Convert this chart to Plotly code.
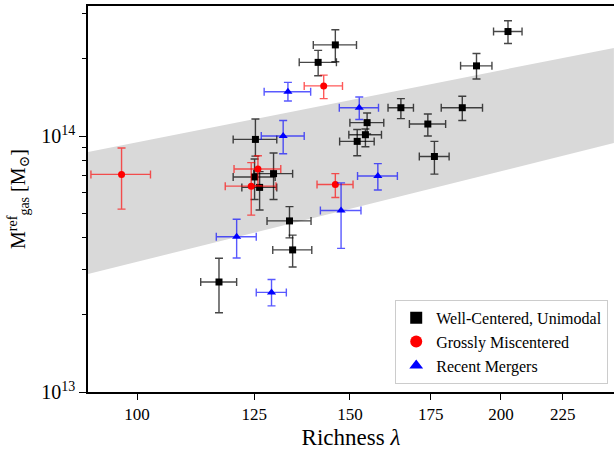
import plotly.graph_objects as go
import numpy as np

# ---- data ----
# Well-Centered, Unimodal
wc_lam = [202.7, 145.9, 141.2, 190.9, 165.3, 185.8, 174.0, 155.0, 154.5, 152.1,
          176.2, 125.3, 125.1, 129.7, 126.3, 133.7, 134.5, 116.9]
wc_lam_err = [5.5, 6.0, 5.0, 5.7, 4.0, 7.3, 6.0, 5.0, 4.8, 5.0,
              5.0, 5.2, 5.0, 4.8, 4.2, 5.6, 5.0, 4.0]
wc_m = [2.56e14, 2.27e14, 1.94e14, 1.88e14, 1.29e14, 1.29e14, 1.114e14, 1.128e14, 1.012e14, 9.53e13,
        8.32e13, 9.70e13, 6.92e13, 7.13e13, 6.30e13, 4.66e13, 3.59e13, 2.69e13]
wc_m_hi = [2.82e14, 2.60e14, 2.16e14, 2.10e14, 1.40e14, 1.43e14, 1.22e14, 1.23e14, 1.065e14, 1.06e14,
           9.53e13, 1.165e14, 8.13e13, 8.59e13, 7.26e13, 5.30e13, 4.10e13, 3.33e13]
wc_m_lo = [2.30e14, 1.95e14, 1.72e14, 1.67e14, 1.17e14, 1.15e14, 1.0e14, 1.02e14, 9.08e13, 8.38e13,
           7.10e13, 8.35e13, 5.65e13, 5.65e13, 5.14e13, 4.00e13, 3.08e13, 2.04e13]

# Grossly Miscentered
gm_lam = [97.1, 142.7, 125.9, 124.3, 145.9]
gm_lam_err = [5.5, 5.2, 5.6, 6.0, 5.0]
gm_m = [7.08e13, 1.57e14, 7.43e13, 6.37e13, 6.47e13]
gm_m_hi = [8.98e13, 1.73e14, 8.38e13, 7.87e13, 7.13e13]
gm_m_lo = [5.18e13, 1.40e14, 6.40e13, 4.91e13, 5.75e13]

# Recent Mergers
rm_lam = [133.3, 152.7, 132.1, 158.2, 147.5, 120.9, 129.2]
rm_lam_err = [5.9, 5.7, 5.4, 6.0, 5.7, 4.6, 3.7]
rm_m = [1.49e14, 1.29e14, 1.00e14, 6.98e13, 5.12e13, 4.04e13, 2.45e13]
rm_m_hi = [1.62e14, 1.42e14, 1.15e14, 7.80e13, 6.56e13, 4.73e13, 2.75e13]
rm_m_lo = [1.37e14, 1.16e14, 8.53e13, 6.15e13, 3.64e13, 3.34e13, 2.17e13]

# scatter band (power-law), at the x-range edges
band_lam = [91.1, 248.0]
band_upper = [8.66e13, 2.21e14]
band_lower = [2.89e13, 9.39e13]

x_ticks = [100, 125, 150, 175, 200, 225]
y_major = [1e13, 1e14]
y_major_text = ["10<sup>13</sup>", "10<sup>14</sup>"]
y_minor = [2e13, 3e13, 4e13, 5e13, 6e13, 7e13, 8e13, 9e13, 2e14, 3e14]

FONT = "Liberation Serif, DejaVu Serif, serif"

fig = go.Figure()

# band
fig.add_trace(go.Scatter(
    x=band_lam + band_lam[::-1],
    y=band_upper + band_lower[::-1],
    fill="toself", fillcolor="rgb(217,217,217)",
    line=dict(width=0), mode="lines", hoverinfo="skip", showlegend=False))


def add_group(lam, lam_err, m, hi, lo, name, color, ecolor, symbol, size):
    m = np.array(m); hi = np.array(hi); lo = np.array(lo)
    fig.add_trace(go.Scatter(
        x=lam, y=m, mode="markers", name=name,
        marker=dict(color=color, symbol=symbol, size=size, line=dict(width=0)),
        error_x=dict(type="data", array=lam_err, color=ecolor, thickness=1.4, width=4),
        error_y=dict(type="data", symmetric=False, array=list(hi - m), arrayminus=list(m - lo),
                     color=ecolor, thickness=1.4, width=4),
    ))


add_group(wc_lam, wc_lam_err, wc_m, wc_m_hi, wc_m_lo, "Well-Centered, Unimodal",
          "black", "rgba(0,0,0,0.72)", "square", 7)
add_group(gm_lam, gm_lam_err, gm_m, gm_m_hi, gm_m_lo, "Grossly Miscentered",
          "red", "rgba(255,0,0,0.65)", "circle", 7)
add_group(rm_lam, rm_lam_err, rm_m, rm_m_hi, rm_m_lo, "Recent Mergers",
          "blue", "rgba(0,0,255,0.65)", "triangle-up", 8)

fig.update_layout(
    width=614, height=450,
    margin=dict(l=88, r=0, t=6, b=58),
    paper_bgcolor="white", plot_bgcolor="white",
    font=dict(family=FONT, size=17, color="black"),
    showlegend=True,
    legend=dict(
        x=0.989, y=0.021, xanchor="right", yanchor="bottom",
        bgcolor="rgba(255,255,255,0.85)", bordercolor="#cccccc", borderwidth=1,
        font=dict(family=FONT, size=16, color="black"),
        itemsizing="constant", tracegroupgap=0,
    ),
    xaxis=dict(
        type="log", range=[1.95947, 2.39454], automargin=False,
        tickvals=x_ticks, ticktext=[str(v) for v in x_ticks],
        ticks="outside", ticklen=6, tickwidth=1.2, tickcolor="black",
        showline=True, linecolor="black", linewidth=1.5, mirror=True,
        showgrid=False, zeroline=False,
        title=dict(text="Richness <i>λ</i>", font=dict(family=FONT, size=23), standoff=6),
        tickfont=dict(family=FONT, size=17),
    ),
    yaxis=dict(
        type="log", range=[13, 14.508], automargin=False,
        tickvals=y_major, ticktext=y_major_text,
        ticks="outside", ticklen=7, tickwidth=1.2, tickcolor="black",
        minor=dict(tickvals=y_minor, ticks="outside", ticklen=4, tickwidth=1, tickcolor="black", showgrid=False),
        showline=True, linecolor="black", linewidth=1.5, mirror=False,
        showgrid=False, zeroline=False,
        title=dict(text="M<sup>ref</sup><sub>gas</sub> [M<sub>⊙</sub>]", font=dict(family=FONT, size=20), standoff=10),
        tickfont=dict(family=FONT, size=20),
    ),
)

fig.write_html("out.html", post_script="document.body.style.margin='0';",
               config={"displayModeBar": False})
